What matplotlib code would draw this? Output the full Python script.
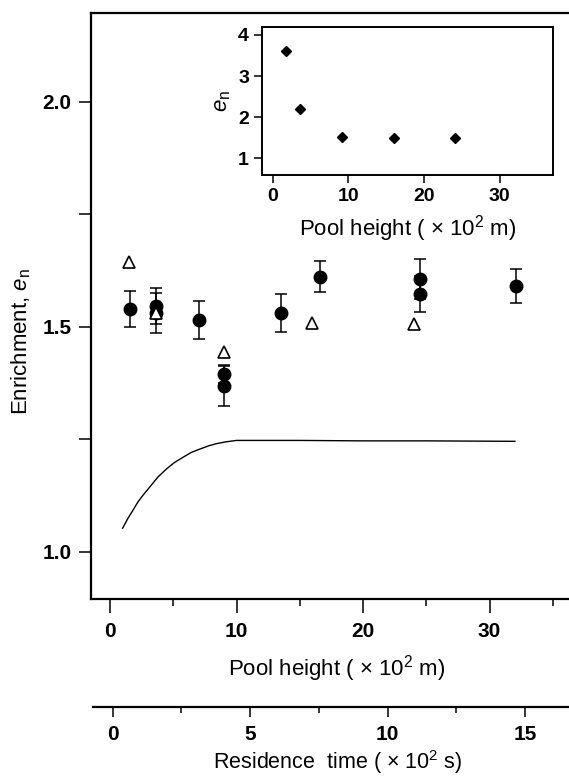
import matplotlib
matplotlib.use("Agg")
import matplotlib.pyplot as plt
from matplotlib.ticker import MultipleLocator

plt.rcParams['font.family'] = ['Liberation Sans', 'DejaVu Sans']
plt.rcParams['mathtext.fontset'] = 'custom'
plt.rcParams['mathtext.rm'] = 'Liberation Sans'
plt.rcParams['mathtext.it'] = 'Liberation Sans:italic'

# --- data (pool height in x10^2 m, enrichment) ---
circ_x = [1.6, 3.6, 3.6, 7.0, 9.0, 9.0, 13.5, 16.6, 24.5, 24.5, 32.1]
circ_y = [1.540, 1.545, 1.530, 1.515, 1.395, 1.368, 1.530, 1.611, 1.606, 1.573, 1.590]
circ_err = [0.040, 0.040, 0.045, 0.042, 0.020, 0.045, 0.042, 0.035, 0.044, 0.040, 0.037]

tri_x = [1.5, 3.6, 9.0, 16.0, 24.0]
tri_y = [1.644, 1.530, 1.444, 1.508, 1.506]

curve_x = [1.0, 1.4, 1.84, 2.2, 2.6, 3.16, 3.8, 4.48, 5.1, 5.8, 6.4, 7.12, 7.8, 8.44, 9.2, 10.0, 15.0, 20.0, 25.0, 32.0]
curve_y = [1.052, 1.073, 1.093, 1.110, 1.125, 1.144, 1.166, 1.184, 1.198, 1.210, 1.220, 1.228, 1.235, 1.240, 1.244, 1.247, 1.247, 1.246, 1.246, 1.245]

inset_x = [1.8, 3.6, 9.1, 16.0, 24.1]
inset_y = [3.62, 2.20, 1.53, 1.49, 1.49]

main_xticks = [0, 10, 20, 30]
main_yticks = [1.0, 1.5, 2.0]
res_xticks = [0, 5, 10, 15]
inset_xticks = [0, 10, 20, 30]
inset_yticks = [1, 2, 3, 4]

W, H = 569, 778
fig = plt.figure(figsize=(W / 100, H / 100), dpi=100)

def frac(x0, y0, x1, y1):
    return [x0 / W, 1 - y1 / H, (x1 - x0) / W, (y1 - y0) / H]

# --- main axes ---
ax = fig.add_axes(frac(91, 13.3, 582, 599.3))
ax.set_xlim(-1.5, 37.3)
ax.set_ylim(0.894, 2.196)
ax.plot(curve_x, curve_y, color='black', lw=1.0)
ax.errorbar(circ_x, circ_y, yerr=circ_err, fmt='o', color='black', ms=9,
            ecolor='black', elinewidth=1.1, capsize=4.5, capthick=1.1, zorder=3)
ax.plot(tri_x, tri_y, '^', ms=9, mfc='white', mec='black', mew=1.2, ls='none', zorder=4)

ax.spines['right'].set_visible(False)
for s in ['left', 'bottom', 'top']:
    ax.spines[s].set_linewidth(1.6)
ax.set_xticks(main_xticks)
ax.xaxis.set_minor_locator(MultipleLocator(5))
ax.set_yticks(main_yticks)
ax.set_yticklabels(['1.0', '1.5', '2.0'])
ax.yaxis.set_minor_locator(MultipleLocator(0.25))
ax.tick_params(axis='both', which='both', direction='out', width=1.1, labelsize=15)
ax.tick_params(axis='x', which='major', length=10, pad=6)
ax.tick_params(axis='x', which='minor', length=5)
ax.tick_params(axis='y', which='both', length=9, pad=5)
for lab in ax.get_xticklabels() + ax.get_yticklabels():
    lab.set_fontweight('bold')
ax.set_xlabel(r'Pool height ( $\times$ 10$^{2}$ m)', fontsize=16, labelpad=9)
ax.set_ylabel(r'Enrichment, $e_{\mathrm{n}}$', fontsize=16)
ax.yaxis.set_label_coords(-0.118, 0.44)

# --- residence time axis ---
ax2 = fig.add_axes(frac(92.7, 706.0, 582, 706.7))
ax2.set_xlim(-0.73, 17.07)
ax2.set_ylim(0, 1)
for s in ['left', 'right', 'top']:
    ax2.spines[s].set_visible(False)
ax2.spines['bottom'].set_linewidth(1.6)
ax2.set_yticks([])
ax2.set_xticks(res_xticks)
ax2.xaxis.set_minor_locator(MultipleLocator(2.5))
ax2.tick_params(axis='x', which='major', length=7, width=1.1, labelsize=15, pad=6)
ax2.tick_params(axis='x', which='minor', length=4, width=1.1)
for lab in ax2.get_xticklabels():
    lab.set_fontweight('bold')
ax2.set_xlabel(r'Residence  time ( $\times$ 10$^{2}$ s)', fontsize=15.5, labelpad=3)
ax2.patch.set_visible(False)

# --- inset ---
axi = fig.add_axes(frac(262.3, 26.7, 553.3, 175))
axi.set_xlim(-1.37, 37.07)
axi.set_ylim(0.594, 4.2)
axi.plot(inset_x, inset_y, 'D', color='black', ms=5, ls='none')
for s in axi.spines.values():
    s.set_linewidth(1.4)
axi.set_xticks(inset_xticks)
axi.set_yticks(inset_yticks)
axi.tick_params(axis='both', direction='out', length=6, width=1.1, labelsize=14)
for lab in axi.get_xticklabels() + axi.get_yticklabels():
    lab.set_fontweight('bold')
axi.set_xlabel(r'Pool height ( $\times$ 10$^{2}$ m)', fontsize=16, labelpad=6)
axi.set_ylabel(r'$e_{\mathrm{n}}$', fontsize=16, labelpad=4)

fig.savefig('out.png', dpi=100)
